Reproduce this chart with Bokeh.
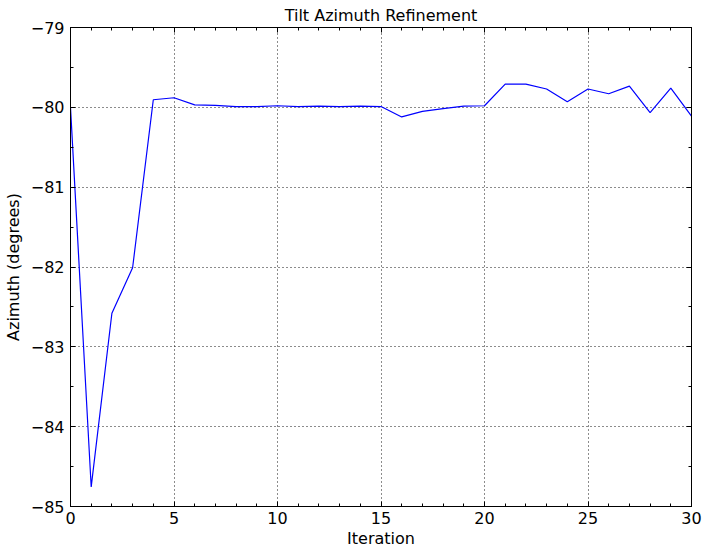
from bokeh.plotting import figure
from bokeh.models import LinearAxis, SingleIntervalTicker, Range1d, Title, CustomJSTickFormatter
from bokeh.embed import file_html
from bokeh.resources import INLINE

iteration = list(range(31))
azimuth = [-80.00, -84.755, -82.58, -82.01, -79.905, -79.88, -79.97, -79.975, -79.99, -79.99,
           -79.98, -79.99, -79.985, -79.99, -79.985, -79.99, -80.12, -80.05, -80.015, -79.985,
           -79.98, -79.71, -79.71, -79.77, -79.93, -79.77, -79.83, -79.735, -80.065, -79.76,
           -80.11]

x_ticks = [0, 5, 10, 15, 20, 25, 30]
y_ticks = [-85, -84, -83, -82, -81, -80, -79]
y_labels = ["\u221285", "\u221284", "\u221283", "\u221282", "\u221281", "\u221280", "\u221279"]

FONT = "DejaVu Sans"

p = figure(frame_width=621, frame_height=479, output_backend="svg", toolbar_location=None,
           x_range=Range1d(0, 30), y_range=Range1d(-85, -79),
           x_axis_location=None, y_axis_location=None,
           min_border_left=60, min_border_right=19, min_border_top=21, min_border_bottom=44)

p.title = Title(text="Tilt Azimuth Refinement", align="center", text_font=FONT,
                text_font_size="16px", text_font_style="normal", text_color="black",
                standoff=6)

xt = SingleIntervalTicker(interval=5, num_minor_ticks=5)
yt = SingleIntervalTicker(interval=1, num_minor_ticks=2)

def style(ax, labels=True):
    ax.axis_line_color = "black"
    ax.axis_line_width = 1
    ax.major_tick_in = 5
    ax.major_tick_out = 0
    ax.minor_tick_in = 3
    ax.minor_tick_out = 0
    ax.major_tick_line_color = "black"
    ax.minor_tick_line_color = "black"
    ax.major_label_text_font = FONT
    ax.major_label_text_font_size = "16px"
    ax.major_label_text_color = "black"
    ax.axis_label_text_font = FONT
    ax.axis_label_text_font_size = "16px"
    ax.axis_label_text_font_style = "normal"
    ax.axis_label_text_color = "black"
    if not labels:
        ax.formatter = CustomJSTickFormatter(code="return '';")
        ax.major_label_text_font_size = "0px"
        ax.major_label_standoff = 0

bottom = LinearAxis(ticker=xt, axis_label="Iteration")
style(bottom)
bottom.major_label_standoff = 5
bottom.axis_label_standoff = 2
p.add_layout(bottom, "below")

left = LinearAxis(ticker=yt, axis_label="Azimuth (degrees)")
style(left)
left.major_label_overrides = {t: s for t, s in zip(y_ticks, y_labels)}
left.major_label_standoff = 6
left.axis_label_standoff = 5
p.add_layout(left, "left")

top = LinearAxis(ticker=xt)
style(top, labels=False)
p.add_layout(top, "above")

right = LinearAxis(ticker=yt)
style(right, labels=False)
p.add_layout(right, "right")

p.xgrid.ticker = xt
p.ygrid.ticker = yt
for g in (p.xgrid, p.ygrid):
    g.grid_line_color = "black"
    g.grid_line_dash = "1 3"
    g.grid_line_width = 1
    g.grid_line_alpha = 0.9

p.outline_line_color = "black"
p.outline_line_width = 1
p.background_fill_color = "white"
p.border_fill_color = "white"

p.line(iteration, azimuth, line_color="#0000ff", line_width=1.2)

open("out.html", "w").write(file_html(p, INLINE))
